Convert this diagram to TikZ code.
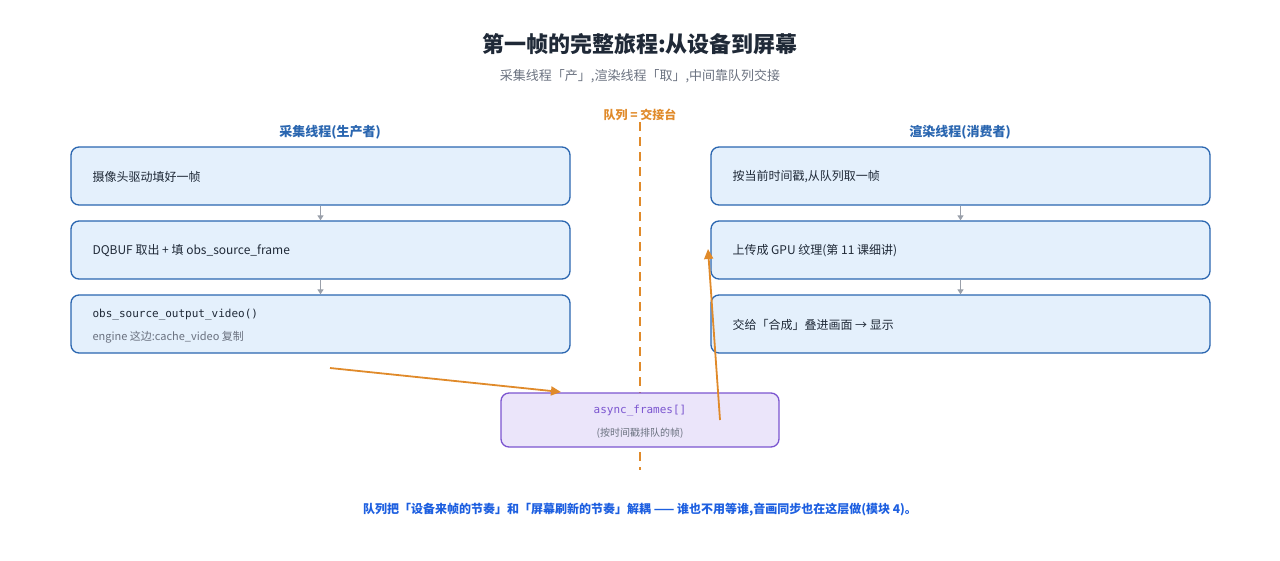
\documentclass[tikz,border=0pt]{standalone}
\usepackage{fontspec}
\setmainfont{Noto Sans CJK SC}
\setmonofont{DejaVu Sans Mono}
\usetikzlibrary{arrows.meta}
\definecolor{bfill}{HTML}{E4F0FC}
\definecolor{bline}{HTML}{2A66B0}
\definecolor{pfill}{HTML}{EBE5FA}
\definecolor{pline}{HTML}{7B55D0}
\definecolor{orng}{HTML}{E08A2A}
\definecolor{garr}{HTML}{9AA0AA}
\definecolor{ttl}{HTML}{1F2937}
\definecolor{sub}{HTML}{6B7280}
\definecolor{hd}{HTML}{2A66B0}
\definecolor{note}{HTML}{1D5FE0}
\tikzset{
 box/.style={draw=bline,fill=bfill,line width=1.3pt,rounded corners=8pt,minimum width=499pt,minimum height=58pt,inner sep=0pt},
 txt/.style={anchor=west,font=\fontsize{12}{14}\selectfont,text=ttl},
 garrow/.style={draw=garr,line width=1.2pt,-{Triangle[length=5pt,width=6pt]}},
 oarrow/.style={draw=orng,line width=1.8pt,-{Triangle[length=10pt,width=9pt]}}
}
\begin{document}
\begin{tikzpicture}[x=1pt,y=-1pt]
\useasboundingbox (0,0) rectangle (1280,560);
\node[font=\fontsize{22}{26}\selectfont\bfseries,text=ttl] (title) at (640,44) {第一帧的完整旅程:从设备到屏幕};
\node[font=\fontsize{13}{16}\selectfont,text=sub] (subt) at (640,76) {采集线程「产」,渲染线程「取」,中间靠队列交接};
\node[font=\fontsize{12}{14}\selectfont\bfseries,text=orng] (qlab) at (640,115) {队列 = 交接台};
\coordinate (dtop) at (640,122);
\coordinate (dbot) at (640,470);
\draw[orng,line width=2pt,dash pattern=on 9pt off 6pt] (dtop) -- (dbot);
\node[font=\fontsize{13}{16}\selectfont\bfseries,text=hd] (lh) at (330,132) {采集线程(生产者)};
\node[font=\fontsize{13}{16}\selectfont\bfseries,text=hd] (rh) at (960,132) {渲染线程(消费者)};
\node[box] (l1) at (320.5,176) {};
\node[box] (l2) at (320.5,250) {};
\node[box] (l3) at (320.5,324) {};
\node[box] (r1) at (960.5,176) {};
\node[box] (r2) at (960.5,250) {};
\node[box] (r3) at (960.5,324) {};
\node[txt] at (89,177) {摄像头驱动填好一帧};
\node[txt] at (89,251) {DQBUF 取出 + 填 obs\_source\_frame};
\node[txt,font=\ttfamily\fontsize{11}{13}\selectfont] at (89,315) {obs\_source\_output\_video()};
\node[txt,font=\fontsize{11}{13}\selectfont,text=sub] at (89,337) {engine 这边:cache\_video 复制};
\node[txt] at (729,177) {按当前时间戳,从队列取一帧};
\node[txt] at (729,251) {上传成 GPU 纹理(第 11 课细讲)};
\node[txt] at (729,325) {交给「合成」叠进画面 → 显示};
\draw[garrow] (l1.south) -- (l2.north);
\draw[garrow] (l2.south) -- (l3.north);
\draw[garrow] (r1.south) -- (r2.north);
\draw[garrow] (r2.south) -- (r3.north);
\node[draw=pline,fill=pfill,line width=1.3pt,rounded corners=8pt,minimum width=278pt,minimum height=54pt] (q) at (640,420) {};
\node[font=\ttfamily\fontsize{11}{13}\selectfont,text=pline] at (640,411) {async\_frames[]};
\node[font=\fontsize{10}{12}\selectfont,text=sub] at (640,433) {(按时间戳排队的帧)};
\coordinate (a1s) at (330,368);
\coordinate (a1e) at (561,392);
\draw[oarrow] (a1s) -- (a1e);
\coordinate (a2s) at (720,420);
\coordinate (a2e) at (708,249);
\draw[oarrow] (a2s) -- (a2e);
\node[font=\fontsize{12}{14}\selectfont\bfseries,text=note] (foot) at (640,510) {队列把「设备来帧的节奏」和「屏幕刷新的节奏」解耦 —— 谁也不用等谁,音画同步也在这层做(模块 4)。};
\end{tikzpicture}
\end{document}
